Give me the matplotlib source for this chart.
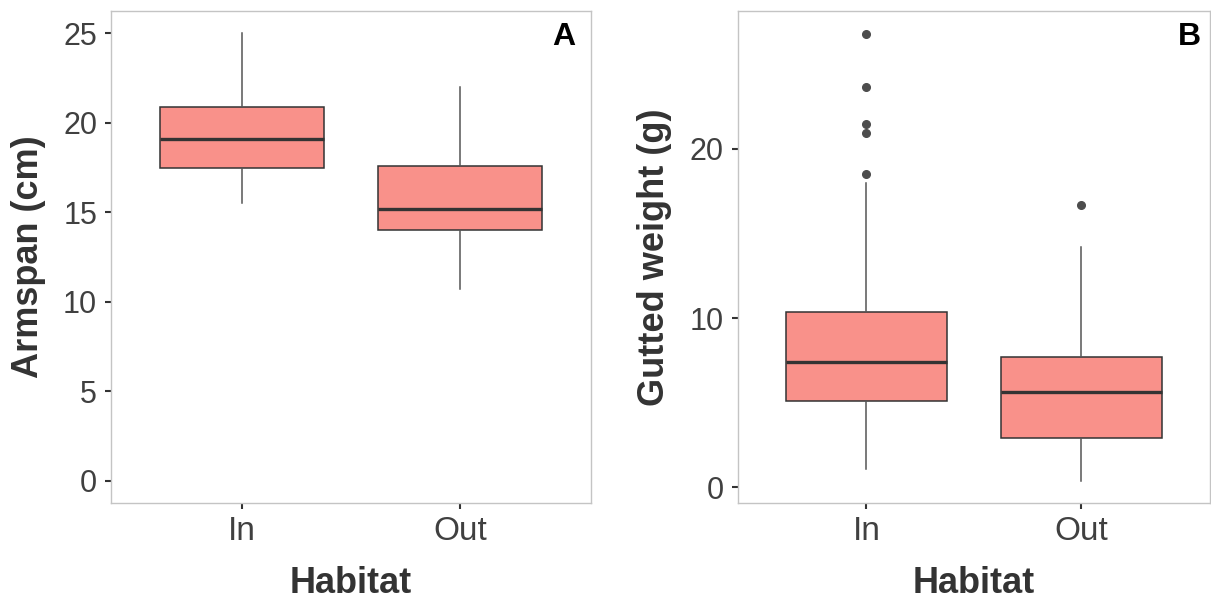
import numpy as np
import matplotlib.pyplot as plt

plt.rcParams['font.family'] = ['Liberation Sans', 'DejaVu Sans']

habitat = ["In", "Out"]

# panel A: armspan (cm)
arm_whislo = [15.5, 10.7]
arm_q1 = [17.5, 14.0]
arm_med = [19.1, 15.2]
arm_q3 = [20.9, 17.6]
arm_whishi = [25.0, 22.0]
arm_fliers = [[], []]

# panel B: gutted weight (g)
gut_whislo = [1.1, 0.4]
gut_q1 = [5.1, 2.9]
gut_med = [7.4, 5.65]
gut_q3 = [10.35, 7.7]
gut_whishi = [18.0, 14.2]
gut_fliers = [[18.5, 20.95, 21.45, 23.65, 26.8], [16.7]]

FILL = "#F9918A"
EDGE = "#333333"
TXT = "#333333"


def stats(lo, q1, med, q3, hi, fl):
  out = []
  for i in range(len(habitat)):
    out.append(dict(whislo=lo[i], q1=q1[i], med=med[i], q3=q3[i], whishi=hi[i],
                    fliers=fl[i], label=habitat[i]))
  return out


def panel(ax, st, ylabel, tag, ticks, ylim, tagx, labx):
  ax.bxp(st, positions=[1, 2], widths=0.75, patch_artist=True, showcaps=False,
         boxprops=dict(facecolor=FILL, edgecolor=EDGE, linewidth=1.1),
         medianprops=dict(color=EDGE, linewidth=2.4),
         whiskerprops=dict(color="#555555", linewidth=1.1),
         flierprops=dict(marker="o", markerfacecolor="#4d4d4d", markeredgecolor="#4d4d4d",
                         markersize=5.5, linestyle="none"))
  ax.set_xlim(0.4, 2.6)
  ax.set_ylim(*ylim)
  ax.set_yticks(ticks)
  ax.set_xticks([1, 2])
  ax.set_xticklabels(habitat)
  for s in ax.spines.values():
    s.set_color("#c4c4c4")
    s.set_linewidth(1.0)
  ax.tick_params(axis="y", labelsize=22, colors=TXT, length=4, width=1.5, pad=6,
                 labelcolor="#404040")
  ax.tick_params(axis="x", labelsize=24, colors=TXT, length=4, width=1.5, pad=5,
                 labelcolor="#404040")
  ax.set_ylabel(ylabel, fontsize=26, fontweight="bold", color=TXT)
  ax.set_xlabel("Habitat", fontsize=26, fontweight="bold", color=TXT)
  ax.xaxis.set_label_coords(0.5, -0.128)
  ax.yaxis.set_label_coords(labx, 0.5)
  ax.text(tagx, 0.931, tag, transform=ax.transAxes, ha="center", va="baseline",
          fontsize=23, fontweight="bold", color="black")


fig = plt.figure(figsize=(12.11, 6.06), dpi=100)
W, H = 1211, 606
axA = fig.add_axes([111 / W, 1 - 503 / H, 480 / W, 492 / H])
axB = fig.add_axes([737.5 / W, 1 - 503 / H, 472.5 / W, 492 / H])

panel(axA, stats(arm_whislo, arm_q1, arm_med, arm_q3, arm_whishi, arm_fliers),
      "Armspan (cm)", "A", [0, 5, 10, 15, 20, 25], (-1.25, 26.25), 0.943, -0.135)
panel(axB, stats(gut_whislo, gut_q1, gut_med, gut_q3, gut_whishi, gut_fliers),
      "Gutted weight (g)", "B", [0, 10, 20], (-0.92, 28.15), 0.956, -0.139)

fig.savefig("out.png", dpi=100)
